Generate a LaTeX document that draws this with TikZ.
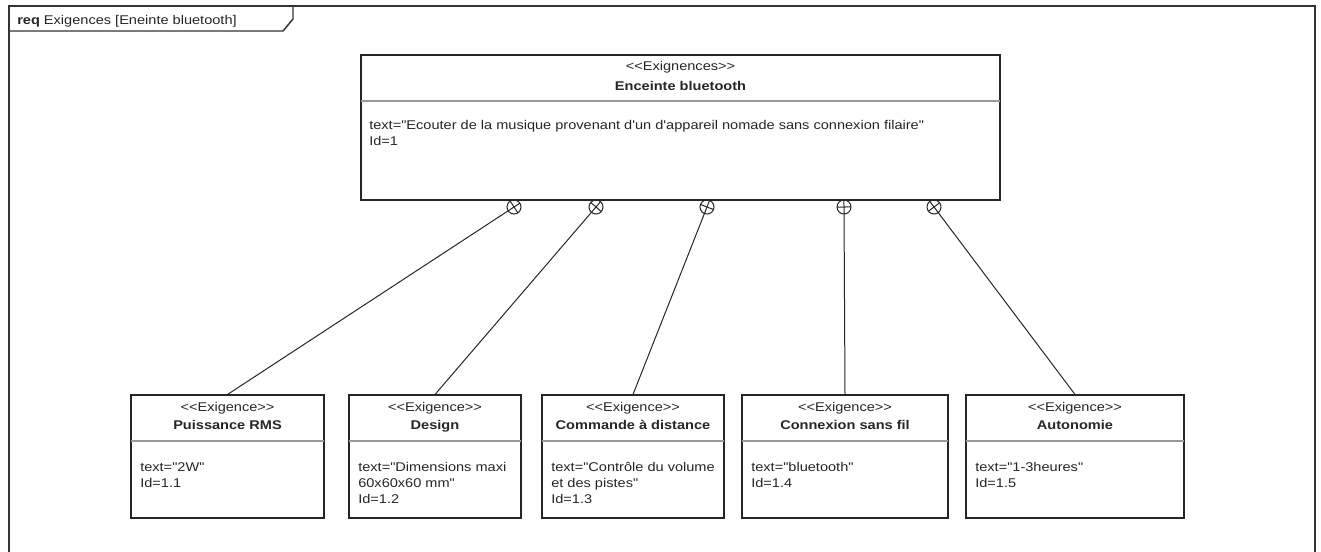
\documentclass[tikz,border=0pt]{standalone}
\usepackage{fontspec}
\newfontfamily\umlfont{Liberation Sans}[FakeStretch=1.15]
\usetikzlibrary{calc,fit}
\tikzset{
  box/.style={draw, inner sep=0pt, line width=0.8pt, draw=black!85},
  divider/.style={draw=black!40, line width=0.8pt},
  txt/.style={inner sep=0pt, text=black!85, font=\umlfont\fontsize{9.5}{11}\selectfont},
  ttl/.style={inner sep=0pt, text=black!85, font=\umlfont\bfseries\fontsize{9.5}{11}\selectfont},
  link/.style={line width=0.75pt, draw=black!85},
  contain/.style={circle, draw=black!85, minimum size=10.5pt, inner sep=0pt, line width=0.75pt},
  frame/.style={line width=1.4pt, draw=black!80},
}
\newcommand\reqbox[6]{%
  \path (#2,#3) coordinate (#1nw) (#4,#5) coordinate (#1se);
  \node[box, fit=(#1nw)(#1se)] (#1) {};
  \draw[divider] (#2,#3+46) -- (#4,#3+46);
  \node[txt, anchor=base] (#1s) at ({(#2+#4)/2},#3+16) {<\kern0pt<Exigence>\kern0pt>};
  \node[ttl, anchor=base] (#1t) at ({(#2+#4)/2},#3+34) {#6};
}
\newcommand\containlink[2]{%
  \draw[link] (#2.north) -- ($(#1.center)!5.25pt!180:(#2.north)$);
  \draw[link] ($(#1.center)!5.25pt!90:(#2.north)$) -- ($(#1.center)!5.25pt!-90:(#2.north)$);
}
\begin{document}
\begin{tikzpicture}[x=0.75pt,y=-0.75pt]
\useasboundingbox (0,0) rectangle (1321,551);
% frame (open at the bottom, as in the reference)
\draw[frame] (9,560) -- (9,6) -- (1315,6) -- (1315,560);
\draw[line width=1.1pt, draw=black!80] (9,31) -- (283,31) -- (293,19) -- (293,6);
\node[txt, anchor=base west] (ftitle) at (17,24) {\textbf{req} Exigences [Eneinte bluetooth]};
% top requirement
\path (361,55) coordinate (topnw) (1000,200) coordinate (topse);
\node[box, fit=(topnw)(topse)] (top) {};
\draw[divider] (361,101) -- (1000,101);
\node[txt, anchor=base] (tops) at (680.5,70) {<\kern0pt<Exignences>\kern0pt>};
\node[ttl, anchor=base] (topt) at (680.5,90) {Enceinte bluetooth};
\node[txt, anchor=base west] (topl1) at (369,129) {text="Ecouter de la musique provenant d'un d'appareil nomade sans connexion filaire"};
\node[txt, anchor=base west] (topl2) at (369,145) {Id=1};
% sub requirements
\reqbox{b1}{131}{395}{324}{518}{Puissance RMS}
\node[txt, anchor=base west] (b1l1) at (140,471) {text="2W"};
\node[txt, anchor=base west] (b1l2) at (140,487) {Id=1.1};
\reqbox{b2}{349}{395}{521}{518}{Design}
\node[txt, anchor=base west] (b2l1) at (358,471) {text="Dimensions maxi};
\node[txt, anchor=base west] (b2l2) at (358,487) {60x60x60 mm"};
\node[txt, anchor=base west] (b2l3) at (358,503) {Id=1.2};
\reqbox{b3}{542}{395}{724}{518}{Commande à distance}
\node[txt, anchor=base west] (b3l1) at (551,471) {text="Contrôle du volume};
\node[txt, anchor=base west] (b3l2) at (551,487) {et des pistes"};
\node[txt, anchor=base west] (b3l3) at (551,503) {Id=1.3};
\reqbox{b4}{742}{395}{948}{518}{Connexion sans fil}
\node[txt, anchor=base west] (b4l1) at (751,471) {text="bluetooth"};
\node[txt, anchor=base west] (b4l2) at (751,487) {Id=1.4};
\reqbox{b5}{966}{395}{1184}{518}{Autonomie}
\node[txt, anchor=base west] (b5l1) at (975,471) {text="1-3heures"};
\node[txt, anchor=base west] (b5l2) at (975,487) {Id=1.5};
% containment symbols
\node[contain] (c1) at (514,207) {};
\node[contain] (c2) at (596,207) {};
\node[contain] (c3) at (707,207) {};
\node[contain] (c4) at (844,207) {};
\node[contain] (c5) at (934,207) {};
\containlink{c1}{b1}
\containlink{c2}{b2}
\containlink{c3}{b3}
\containlink{c4}{b4}
\containlink{c5}{b5}
\end{tikzpicture}
\end{document}
